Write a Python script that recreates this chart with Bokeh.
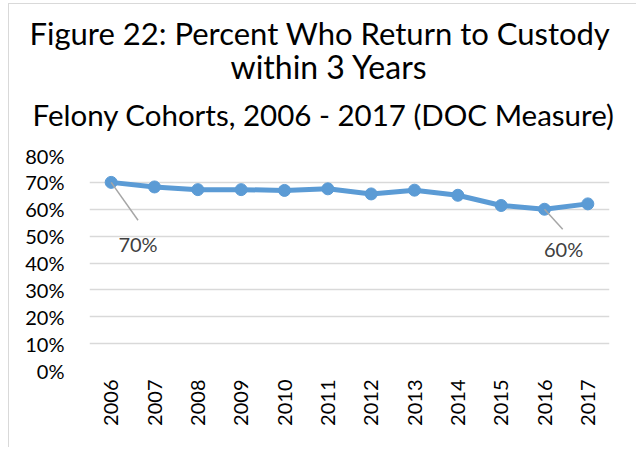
from bokeh.plotting import figure
from bokeh.models import Label, Range1d, FixedTicker, NumeralTickFormatter, Title
from bokeh.embed import file_html
from bokeh.resources import INLINE
import math

years = ["2006", "2007", "2008", "2009", "2010", "2011", "2012", "2013", "2014", "2015", "2016", "2017"]
rates = [0.700, 0.683, 0.673, 0.673, 0.670, 0.676, 0.657, 0.671, 0.652, 0.614, 0.600, 0.620]
y_ticks = [0.0, 0.1, 0.2, 0.3, 0.4, 0.5, 0.6, 0.7, 0.8]
title_lines = ["Figure 22: Percent Who Return to Custody", "within 3 Years",
               "Felony Cohorts, 2006 - 2017 (DOC Measure)"]
labelled = [(0, "70%"), (10, "60%")]

FONT = "Lato"
xs = list(range(len(years)))

p = figure(frame_width=520, frame_height=215, output_backend="svg", toolbar_location=None,
           x_range=Range1d(-0.5, len(years) - 0.5), y_range=Range1d(0, 0.8),
           min_border_left=80, min_border_right=27, min_border_top=151, min_border_bottom=77)
p.outline_line_color = None
p.background_fill_color = "white"
p.border_fill_color = "white"
p.styles = {"margin-left": "8px", "margin-top": "3px",
            "border-left": "1px solid #d9d9d9", "border-top": "1px solid #d9d9d9"}

p.xgrid.grid_line_color = None
p.ygrid.grid_line_color = "#d9d9d9"
p.ygrid.grid_line_width = 1.5

p.xaxis.ticker = FixedTicker(ticks=xs)
p.xaxis.major_label_overrides = {i: y for i, y in enumerate(years)}
p.xaxis.major_label_orientation = math.pi / 2
p.yaxis.ticker = FixedTicker(ticks=y_ticks)
p.yaxis.formatter = NumeralTickFormatter(format="0%")
for ax in (p.xaxis, p.yaxis):
    ax.axis_line_color = None
    ax.major_tick_line_color = None
    ax.minor_tick_line_color = None
    ax.major_tick_out = 0
    ax.major_label_text_font = FONT
    ax.major_label_text_color = "#000000"
p.yaxis.major_label_text_font_size = "20px"
p.xaxis.major_label_text_font_size = "20px"
p.yaxis.major_label_standoff = 25
p.xaxis.major_label_standoff = 9

p.line(xs, rates, line_color="#5b9bd5", line_width=5)
p.scatter(xs, rates, size=12, fill_color="#5b9bd5", line_color="#5b9bd5")

# leader lines and data labels
leader = {0: (0.62, -0.141), 10: (0.42, -0.074)}
label_pos = {0: (0.62, -0.228), 10: (0.44, -0.148)}
for i, txt in labelled:
    dx, dy = leader[i]
    p.segment(x0=[xs[i]], y0=[rates[i]], x1=[xs[i] + dx], y1=[rates[i] + dy],
              line_color="#a6a6a6", line_width=1.5)
    lx, ly = label_pos[i]
    p.add_layout(Label(x=xs[i] + lx, y=rates[i] + ly, text=txt, text_font=FONT,
                       text_font_size="20px", text_color="#404040",
                       text_align="center", text_baseline="middle"))

sizes = ["31px", "32px", "29.5px"]
standoffs = [15, -29, 47]
offsets = [-60, 141, -57]
for t, s, so, off in reversed(list(zip(title_lines, sizes, standoffs, offsets))):
    p.add_layout(Title(text=t, text_font=FONT, text_font_size=s, text_font_style="normal",
                       text_color="#000000", align="left", offset=off, standoff=so), "above")

open("out.html", "w").write(file_html(p, INLINE))
